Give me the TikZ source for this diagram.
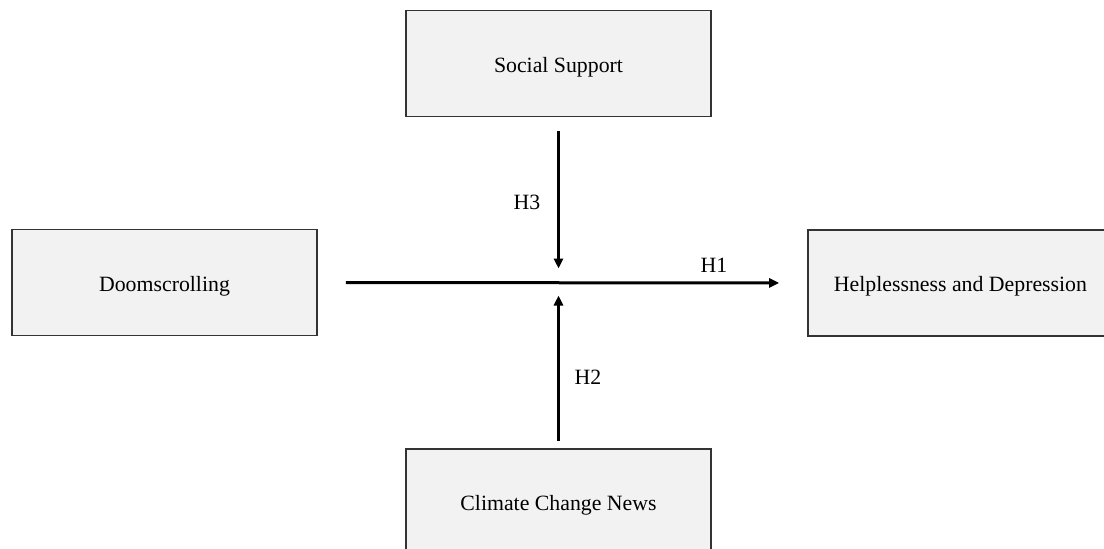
\documentclass[tikz,border=0pt]{standalone}
\usepackage{fontspec}
\setmainfont{Liberation Serif}
\usetikzlibrary{arrows.meta}
\definecolor{boxfill}{HTML}{F2F2F2}
\definecolor{boxline}{HTML}{333333}
\begin{document}
\begin{tikzpicture}[x=1pt,y=-1pt,
  varbox/.style={draw=boxline,line width=1.6pt,fill=boxfill,rectangle,
    minimum width=305pt,minimum height=106pt,inner sep=0pt,
    font=\fontsize{21.8}{26}\selectfont,
    text height=17pt,text depth=0pt},
  hyp/.style={font=\fontsize{21.8}{26}\selectfont,inner sep=0pt},
  link/.style={line width=3pt,-{Triangle[length=10pt,width=9pt]}}]
\useasboundingbox (0,0) rectangle (1104,549);
\node[varbox] (ss) at (558.5,63.5) {Social Support};
\node[varbox] (doom) at (164.5,282.5) {Doomscrolling};
\node[varbox] (help) at (960.5,283) {Helplessness and Depression};
\node[varbox] (ccn) at (558.5,502) {Climate Change News};
\coordinate (m) at (558.5,282.5);
\draw[link,shorten <=28pt,shorten >=28pt] (doom.east) -- (help.west);
\draw[link,shorten <=14pt,shorten >=14pt] (ss.south) -- (m);
\draw[link,shorten <=7pt,shorten >=13pt] (ccn.north) -- (m);
\node[hyp] (h1) at (714,265) {H1};
\node[hyp] (h3) at (527,202) {H3};
\node[hyp] (h2) at (588,377) {H2};
\end{tikzpicture}
\end{document}
